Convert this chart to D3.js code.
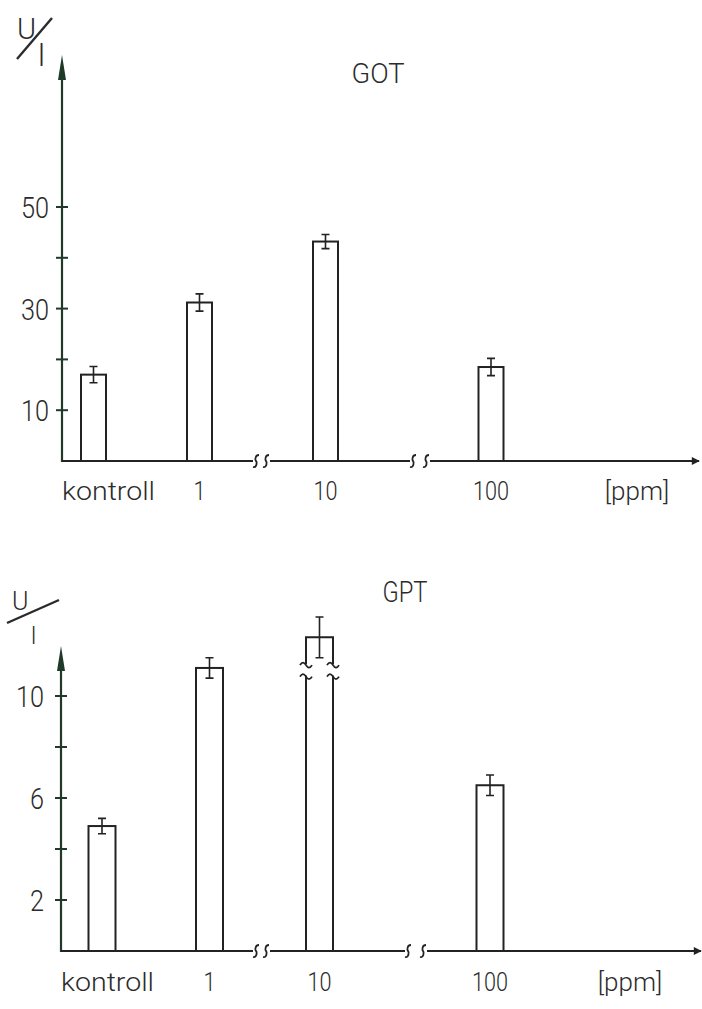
<!DOCTYPE html>
<html>
<head>
<meta charset="utf-8">
<script src="https://cdn.jsdelivr.net/npm/d3@7"></script>
<style>
body { margin: 0; background: #fff; }
text { font-family: Roboto, "DejaVu Sans", sans-serif; font-weight: 300; fill: #2b2b2b; }
</style>
</head>
<body>
<script>
//Width and height
var w = 702;
var h = 1009;

var categories = ["kontroll", "1", "10", "100"];
var unitLabel = "[ppm]";

// GOT panel (U/l)
var gotValues = [17, 31.2, 43.2, 18.5];
var gotErrors = [1.6, 1.7, 1.4, 1.7];
var gotTicks = [10, 20, 30, 40, 50];
var gotTickLabels = ["10", "", "30", "", "50"];

// GPT panel (U/l), the 10 ppm bar is cut off above the break
var gptValues = [4.9, 11.1, 12.3, 6.5];
var gptErrors = [0.3, 0.4, 0.8, 0.4];
var gptTicks = [2, 4, 6, 8, 10];
var gptTickLabels = ["2", "", "6", "", "10"];
var gptBreak = [10.8, 11.25];

var ink = "#222";
var axisInk = "#1f3a28";

//Create SVG element
var svg = d3.select("body")
            .append("svg")
            .attr("width", w)
            .attr("height", h)
            .style("background", "#fff");

svg.append("defs").append("marker")
   .attr("id", "arrow")
   .attr("viewBox", "0 0 10 10")
   .attr("refX", 9).attr("refY", 5)
   .attr("markerWidth", 18).attr("markerHeight", 8)
   .attr("markerUnits", "userSpaceOnUse")
   .attr("orient", "auto")
   .append("path")
   .attr("d", "M0,0 L10,5 L0,10 z")
   .attr("fill", ink);

var panels = [
  { title: "GOT", values: gotValues, errors: gotErrors, ticks: gotTicks, tickLabels: gotTickLabels,
    max: 50, ax: 62, base: 461, topTick: 207, axisTop: 55, xEnd: 699,
    pos: [93.5, 199.5, 325.5, 491], bw: 25, breaks: [[253, 270], [410, 430]],
    titleX: 378, titleY: 83, titleSize: 28, labelY: 500, tickRight: 49, unitX: 637,
    uX: 17, uY: 39, uSize: 29, slash: [17, 59, 52, 18], lX: 38, lY: 66, lSize: 31 },
  { title: "GPT", values: gptValues, errors: gptErrors, ticks: gptTicks, tickLabels: gptTickLabels,
    max: 10, ax: 61, base: 951, topTick: 696, axisTop: 646, xEnd: 701,
    pos: [102, 209.5, 319.5, 490], bw: 27, breaks: [[253, 270], [405, 427]],
    titleX: 405, titleY: 602, titleSize: 30, labelY: 991, tickRight: 44, unitX: 630,
    uX: 12, uY: 610, uSize: 25, slash: [7, 623, 59, 600], lX: 31, lY: 644, lSize: 23,
    brokenBar: 2, brk: gptBreak }
];

panels.forEach(function(p) {
  var g = svg.append("g");

  var y = d3.scaleLinear().domain([0, p.max]).range([p.base, p.topTick]);
  var x = d3.scaleOrdinal().domain(categories).range(p.pos);

  // y axis with arrow
  g.append("line")
   .attr("x1", p.ax).attr("x2", p.ax)
   .attr("y1", p.base + 1).attr("y2", p.axisTop + 22)
   .attr("stroke", axisInk).attr("stroke-width", 2.2);
  g.append("path")
   .attr("d", "M" + (p.ax - 4) + "," + (p.axisTop + 25) + " L" + p.ax + "," + p.axisTop + " L" + (p.ax + 4) + "," + (p.axisTop + 25) + " z")
   .attr("fill", axisInk);

  g.selectAll(".tick")
   .data(p.ticks)
   .enter()
   .append("line")
   .attr("x1", p.ax - 6).attr("x2", p.ax + 6)
   .attr("y1", function(d) { return y(d); })
   .attr("y2", function(d) { return y(d); })
   .attr("stroke", axisInk).attr("stroke-width", 2);

  g.selectAll(".ticklabel")
   .data(p.ticks)
   .enter()
   .append("text")
   .text(function(d, i) { return p.tickLabels[i]; })
   .attr("x", p.tickRight)
   .attr("y", function(d) { return y(d) + 11; })
   .attr("text-anchor", "end")
   .attr("font-size", "30px")
   .attr("textLength", function(d, i) { return p.tickLabels[i].length * 14; })
   .attr("lengthAdjust", "spacingAndGlyphs");

  // x axis, cut at the two breaks
  var segs = [[p.ax, p.breaks[0][0]], [p.breaks[0][1], p.breaks[1][0]], [p.breaks[1][1], p.xEnd]];
  segs.forEach(function(s, i) {
    var l = g.append("line")
     .attr("x1", s[0]).attr("x2", s[1])
     .attr("y1", p.base).attr("y2", p.base)
     .attr("stroke", ink).attr("stroke-width", 2);
    if (i == 2) l.attr("marker-end", "url(#arrow)");
  });
  p.breaks.forEach(function(b) {
    [b[0] + 3, b[1] - 4].forEach(function(cx) {
      g.append("path")
       .attr("d", "M" + (cx - 3) + "," + (p.base + 6) + " C" + (cx + 1) + "," + (p.base + 7) + " " + (cx + 1) + "," + (p.base + 1) + " " + cx + "," + p.base +
                  " C" + (cx - 1) + "," + (p.base - 1) + " " + (cx - 1) + "," + (p.base - 6) + " " + (cx + 3) + "," + (p.base - 6))
       .attr("fill", "none").attr("stroke", ink).attr("stroke-width", 1.8);
    });
  });

  // bars
  p.values.forEach(function(v, i) {
    var cx = x(categories[i]);
    var x0 = cx - p.bw / 2, x1 = cx + p.bw / 2;
    if (p.brokenBar === i) {
      var lo = y(p.brk[0]), hi = y(p.brk[1]);
      g.append("path")
       .attr("d", "M" + x0 + "," + p.base + " L" + x0 + "," + lo + " M" + x1 + "," + p.base + " L" + x1 + "," + lo +
                  " M" + x0 + "," + hi + " L" + x0 + "," + y(v) + " L" + x1 + "," + y(v) + " L" + x1 + "," + hi)
       .attr("fill", "none").attr("stroke", ink).attr("stroke-width", 2);
      [x0, x1].forEach(function(sx) {
        [lo, hi].forEach(function(sy) {
          g.append("path")
           .attr("d", "M" + (sx - 6) + "," + (sy + 1) + " q3,-5 6,0 t6,0")
           .attr("fill", "none").attr("stroke", ink).attr("stroke-width", 1.8);
        });
      });
    } else {
      g.append("rect")
       .attr("x", x0).attr("y", y(v))
       .attr("width", p.bw).attr("height", p.base - y(v))
       .attr("fill", "#fff").attr("stroke", ink).attr("stroke-width", 2);
    }
    // error bar
    var e = p.errors[i];
    g.append("path")
     .attr("d", "M" + cx + "," + y(v - e) + " L" + cx + "," + y(v + e) +
                " M" + (cx - 4) + "," + y(v + e) + " L" + (cx + 4) + "," + y(v + e) +
                " M" + (cx - 4) + "," + y(v - e) + " L" + (cx + 4) + "," + y(v - e))
     .attr("fill", "none").attr("stroke", ink).attr("stroke-width", 1.6);
  });

  // category labels
  g.selectAll(".cat")
   .data(categories)
   .enter()
   .append("text")
   .text(function(d) { return d; })
   .attr("x", function(d, i) { return i == 0 ? p.ax : x(d); })
   .attr("y", p.labelY)
   .attr("text-anchor", function(d, i) { return i == 0 ? "start" : "middle"; })
   .attr("font-size", "26px")
   .attr("textLength", function(d, i) { return i == 0 ? 93 : d.length * 12; })
   .attr("lengthAdjust", "spacingAndGlyphs");

  g.append("text")
   .text(unitLabel)
   .attr("x", p.unitX).attr("y", p.labelY)
   .attr("text-anchor", "middle")
   .attr("font-size", "26px");

  // title
  g.append("text")
   .text(p.title)
   .attr("x", p.titleX).attr("y", p.titleY)
   .attr("text-anchor", "middle")
   .attr("font-size", p.titleSize + "px")
   .attr("textLength", p.title == "GOT" ? 53 : 45)
   .attr("lengthAdjust", "spacingAndGlyphs");

  // unit U/l
  g.append("text").text("U")
   .attr("x", p.uX).attr("y", p.uY)
   .attr("font-size", p.uSize + "px");
  g.append("line")
   .attr("x1", p.slash[0]).attr("y1", p.slash[1])
   .attr("x2", p.slash[2]).attr("y2", p.slash[3])
   .attr("stroke", "#2b2b2b").attr("stroke-width", 2.4);
  g.append("text").text("l")
   .attr("x", p.lX).attr("y", p.lY)
   .attr("font-size", p.lSize + "px");
});
</script>
</body>
</html>
